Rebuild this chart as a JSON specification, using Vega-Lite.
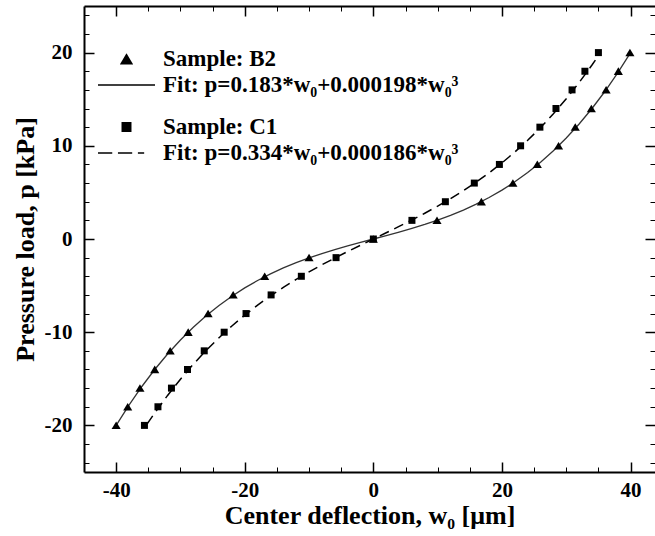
{
  "$schema": "https://vega.github.io/schema/vega-lite/v6.json",
  "width": 571,
  "height": 466,
  "autosize": {"type": "none"},
  "padding": {"left": 84, "top": 6, "right": 0, "bottom": 64},
  "background": "white",
  "config": {
    "view": {"stroke": null},
    "font": "Liberation Serif",
    "axis": {
      "grid": false,
      "domainColor": "black",
      "tickColor": "black",
      "labelFont": "Liberation Serif",
      "labelFontWeight": "bold",
      "labelFontSize": 21,
      "labelColor": "black",
      "titleFont": "Liberation Serif",
      "titleFontWeight": "bold",
      "titleFontSize": 26,
      "titleColor": "black"
    }
  },
  "datasets": {
    "b2pts": [
      {"w": -40.0, "p": -20, "series": "Sample: B2"},
      {"w": -38.2, "p": -18, "series": "Sample: B2"},
      {"w": -36.3, "p": -16, "series": "Sample: B2"},
      {"w": -34.0, "p": -14, "series": "Sample: B2"},
      {"w": -31.6, "p": -12, "series": "Sample: B2"},
      {"w": -28.8, "p": -10, "series": "Sample: B2"},
      {"w": -25.7, "p": -8, "series": "Sample: B2"},
      {"w": -21.8, "p": -6, "series": "Sample: B2"},
      {"w": -16.9, "p": -4, "series": "Sample: B2"},
      {"w": -10.0, "p": -2, "series": "Sample: B2"},
      {"w": 0.0, "p": 0, "series": "Sample: B2"},
      {"w": 9.9, "p": 2, "series": "Sample: B2"},
      {"w": 16.8, "p": 4, "series": "Sample: B2"},
      {"w": 21.7, "p": 6, "series": "Sample: B2"},
      {"w": 25.5, "p": 8, "series": "Sample: B2"},
      {"w": 28.8, "p": 10, "series": "Sample: B2"},
      {"w": 31.4, "p": 12, "series": "Sample: B2"},
      {"w": 33.9, "p": 14, "series": "Sample: B2"},
      {"w": 36.2, "p": 16, "series": "Sample: B2"},
      {"w": 38.1, "p": 18, "series": "Sample: B2"},
      {"w": 39.9, "p": 20, "series": "Sample: B2"}
    ],
    "c1pts": [
      {"w": -35.6, "p": -20, "series": "Sample: C1"},
      {"w": -33.5, "p": -18, "series": "Sample: C1"},
      {"w": -31.4, "p": -16, "series": "Sample: C1"},
      {"w": -28.9, "p": -14, "series": "Sample: C1"},
      {"w": -26.3, "p": -12, "series": "Sample: C1"},
      {"w": -23.2, "p": -10, "series": "Sample: C1"},
      {"w": -19.8, "p": -8, "series": "Sample: C1"},
      {"w": -15.9, "p": -6, "series": "Sample: C1"},
      {"w": -11.2, "p": -4, "series": "Sample: C1"},
      {"w": -5.8, "p": -2, "series": "Sample: C1"},
      {"w": 0.0, "p": 0, "series": "Sample: C1"},
      {"w": 6.0, "p": 2, "series": "Sample: C1"},
      {"w": 11.2, "p": 4, "series": "Sample: C1"},
      {"w": 15.7, "p": 6, "series": "Sample: C1"},
      {"w": 19.6, "p": 8, "series": "Sample: C1"},
      {"w": 22.9, "p": 10, "series": "Sample: C1"},
      {"w": 25.9, "p": 12, "series": "Sample: C1"},
      {"w": 28.4, "p": 14, "series": "Sample: C1"},
      {"w": 30.9, "p": 16, "series": "Sample: C1"},
      {"w": 32.9, "p": 18, "series": "Sample: C1"},
      {"w": 35.0, "p": 20, "series": "Sample: C1"}
    ],
    "b2fit": [
      {"w": -40, "p": -19.992}, {"w": -38, "p": -17.819}, {"w": -36, "p": -15.826},
      {"w": -34, "p": -14.004}, {"w": -32, "p": -12.344}, {"w": -30, "p": -10.836},
      {"w": -28, "p": -9.471}, {"w": -26, "p": -8.238}, {"w": -24, "p": -7.129},
      {"w": -22, "p": -6.134}, {"w": -20, "p": -5.244}, {"w": -18, "p": -4.449},
      {"w": -16, "p": -3.739}, {"w": -14, "p": -3.105}, {"w": -12, "p": -2.538},
      {"w": -10, "p": -2.028}, {"w": -8, "p": -1.565}, {"w": -6, "p": -1.141},
      {"w": -4, "p": -0.745}, {"w": -2, "p": -0.368}, {"w": 0, "p": 0},
      {"w": 2, "p": 0.368}, {"w": 4, "p": 0.745}, {"w": 6, "p": 1.141},
      {"w": 8, "p": 1.565}, {"w": 10, "p": 2.028}, {"w": 12, "p": 2.538},
      {"w": 14, "p": 3.105}, {"w": 16, "p": 3.739}, {"w": 18, "p": 4.449},
      {"w": 20, "p": 5.244}, {"w": 22, "p": 6.134}, {"w": 24, "p": 7.129},
      {"w": 26, "p": 8.238}, {"w": 28, "p": 9.471}, {"w": 30, "p": 10.836},
      {"w": 32, "p": 12.344}, {"w": 34, "p": 14.004}, {"w": 36, "p": 15.826},
      {"w": 38, "p": 17.819}, {"w": 40, "p": 19.992}
    ],
    "c1fit": [
      {"w": -35.2, "p": -19.869}, {"w": -34, "p": -18.667}, {"w": -32, "p": -16.783},
      {"w": -30, "p": -15.042}, {"w": -28, "p": -13.435}, {"w": -26, "p": -11.953},
      {"w": -24, "p": -10.587}, {"w": -22, "p": -9.329}, {"w": -20, "p": -8.168},
      {"w": -18, "p": -7.097}, {"w": -16, "p": -6.106}, {"w": -14, "p": -5.186},
      {"w": -12, "p": -4.329}, {"w": -10, "p": -3.526}, {"w": -8, "p": -2.767},
      {"w": -6, "p": -2.044}, {"w": -4, "p": -1.348}, {"w": -2, "p": -0.670},
      {"w": 0, "p": 0}, {"w": 2, "p": 0.670}, {"w": 4, "p": 1.348},
      {"w": 6, "p": 2.044}, {"w": 8, "p": 2.767}, {"w": 10, "p": 3.526},
      {"w": 12, "p": 4.329}, {"w": 14, "p": 5.186}, {"w": 16, "p": 6.106},
      {"w": 18, "p": 7.097}, {"w": 20, "p": 8.168}, {"w": 22, "p": 9.329},
      {"w": 24, "p": 10.587}, {"w": 26, "p": 11.953}, {"w": 28, "p": 13.435},
      {"w": 30, "p": 15.042}, {"w": 32, "p": 16.783}, {"w": 34, "p": 18.667},
      {"w": 35.2, "p": 19.869}
    ]
  },
  "layer": [
    {
      "data": {"name": "b2fit"},
      "mark": {"type": "line", "color": "#333333", "strokeWidth": 1.3},
      "encoding": {
        "x": {
          "field": "w", "type": "quantitative",
          "scale": {"domain": [-45, 43.8], "nice": false, "zero": false},
          "axis": {
            "orient": "bottom", "values": [-40, -20, 0, 20, 40],
            "tickSize": -10, "tickWidth": 1.5, "domain": true, "domainWidth": 2,
            "labelPadding": 17, "labelExpr": "toString(datum.value)",
            "title": "Center deflection, w₀ [μm]", "titlePadding": 2
          }
        },
        "y": {
          "field": "p", "type": "quantitative",
          "scale": {"domain": [-25, 25], "nice": false, "zero": false},
          "axis": {
            "orient": "left", "values": [-20, -10, 0, 10, 20],
            "tickSize": -10, "tickWidth": 1.5, "domain": true, "domainWidth": 2,
            "labelPadding": 22, "labelExpr": "toString(datum.value)",
            "title": "Pressure load, p [kPa]", "titlePadding": 6
          }
        }
      }
    },
    {
      "data": {"name": "c1fit"},
      "mark": {"type": "line", "color": "black", "strokeWidth": 1.5, "strokeDash": [10, 6]},
      "encoding": {
        "x": {
          "field": "w", "type": "quantitative",
          "scale": {"domain": [-45, 43.8], "nice": false, "zero": false},
          "axis": {
            "orient": "bottom", "values": [-35, -30, -25, -15, -10, -5, 5, 10, 15, 25, 30, 35],
            "tickSize": -5, "tickWidth": 1, "domain": false, "labels": false, "title": null
          }
        },
        "y": {
          "field": "p", "type": "quantitative",
          "scale": {"domain": [-25, 25], "nice": false, "zero": false},
          "axis": {
            "orient": "left", "values": [-24, -22, -18, -16, -14, -12, -8, -6, -4, -2, 2, 4, 6, 8, 12, 14, 16, 18, 22, 24],
            "tickSize": -5, "tickWidth": 1, "domain": false, "labels": false, "title": null
          }
        }
      }
    },
    {
      "data": {"name": "b2pts"},
      "mark": {"type": "point", "filled": true, "color": "black", "opacity": 1, "size": 1500, "strokeWidth": 0},
      "encoding": {
        "x": {
          "field": "w", "type": "quantitative",
          "scale": {"domain": [-45, 43.8], "nice": false, "zero": false},
          "axis": {
            "orient": "top", "values": [-40, -20, 0, 20, 40],
            "tickSize": -10, "tickWidth": 1.5, "domain": true, "domainWidth": 2,
            "labels": false, "title": null
          }
        },
        "y": {
          "field": "p", "type": "quantitative",
          "scale": {"domain": [-25, 25], "nice": false, "zero": false},
          "axis": {
            "orient": "right", "values": [-20, -10, 0, 10, 20],
            "tickSize": -10, "tickWidth": 1.5, "domain": false, "labels": false, "title": null
          }
        },
        "shape": {
          "field": "series", "type": "nominal",
          "scale": {
            "domain": ["Sample: B2", "Fit: p=0.183*w₀+0.000198*w₀³"],
            "range": ["M0,-0.2L0.235,0.19L-0.235,0.19Z", "M-1,-0.025H1V0.025H-1Z"]
          },
          "legend": {
            "orient": "none", "legendX": 14, "legendY": 42.5, "title": null,
            "clipHeight": 21, "rowPadding": 2, "symbolSize": 3249, "padding": 0,
            "symbolStrokeWidth": 0, "symbolFillColor": "black",
            "labelFont": "Liberation Serif", "labelFontWeight": "bold", "labelFontSize": 23,
            "labelColor": "black", "labelOffset": 8, "labelLimit": 0
          }
        }
      }
    },
    {
      "data": {"name": "c1pts"},
      "mark": {"type": "point", "filled": true, "color": "black", "opacity": 1, "size": 1600, "strokeWidth": 0},
      "encoding": {
        "x": {
          "field": "w", "type": "quantitative",
          "scale": {"domain": [-45, 43.8], "nice": false, "zero": false},
          "axis": {
            "orient": "top", "values": [-35, -30, -25, -15, -10, -5, 5, 10, 15, 25, 30, 35],
            "tickSize": -5, "tickWidth": 1, "domain": false, "labels": false, "title": null
          }
        },
        "y": {
          "field": "p", "type": "quantitative",
          "scale": {"domain": [-25, 25], "nice": false, "zero": false},
          "axis": {
            "orient": "right", "values": [-24, -22, -18, -16, -14, -12, -8, -6, -4, -2, 2, 4, 6, 8, 12, 14, 16, 18, 22, 24],
            "tickSize": -5, "tickWidth": 1, "domain": false, "labels": false, "title": null
          }
        },
        "shape": {
          "field": "series", "type": "nominal",
          "scale": {
            "domain": ["Sample: C1", "Fit: p=0.334*w₀+0.000186*w₀³"],
            "range": ["M-0.175,-0.175H0.175V0.175H-0.175Z", "M-1,-0.03H-0.5V0.03H-1ZM-0.3,-0.03H0.2V0.03H-0.3ZM0.4,-0.03H0.62V0.03H0.4Z"]
          },
          "legend": {
            "orient": "none", "legendX": 14, "legendY": 110.5, "title": null,
            "clipHeight": 21, "rowPadding": 2, "symbolSize": 3249, "padding": 0,
            "symbolStrokeWidth": 0, "symbolFillColor": "black",
            "labelFont": "Liberation Serif", "labelFontWeight": "bold", "labelFontSize": 23,
            "labelColor": "black", "labelOffset": 8, "labelLimit": 0
          }
        }
      }
    }
  ],
  "resolve": {
    "axis": {"x": "independent", "y": "independent"},
    "scale": {"shape": "independent"},
    "legend": {"shape": "independent"}
  }
}
